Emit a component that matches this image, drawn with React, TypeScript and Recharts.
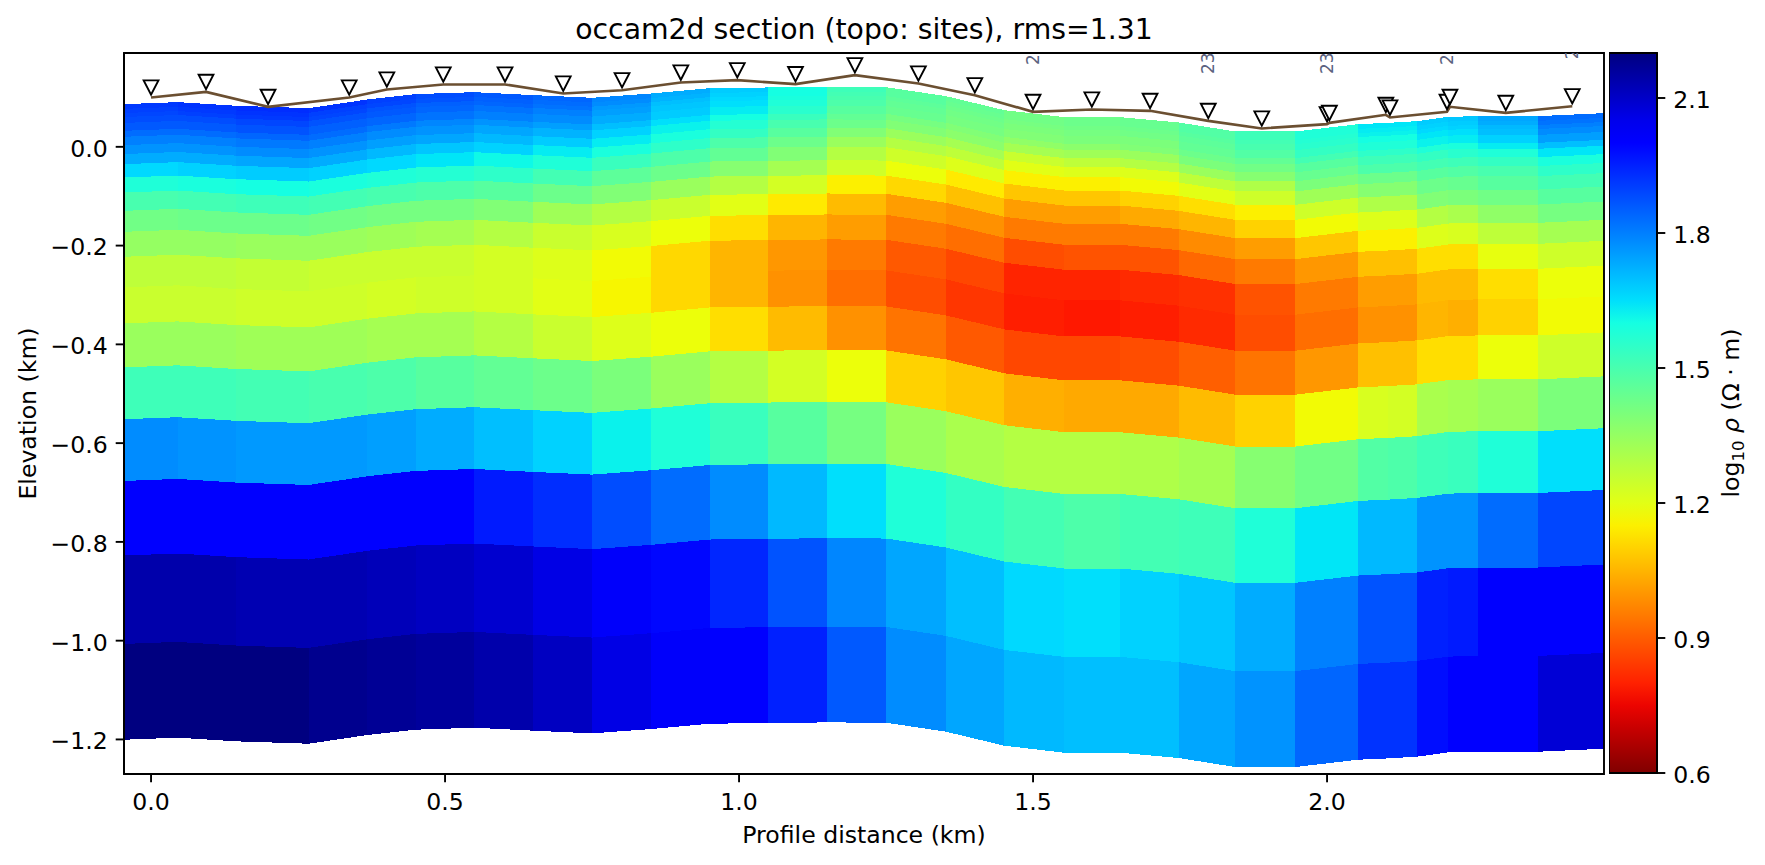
import { Area, ComposedChart, Line, ReferenceArea, Scatter, XAxis, YAxis } from 'recharts'

const FONT = '"DejaVu Sans", sans-serif'

// mesh column edges (km) and ground surface at those edges (km)
const COLUMN_EDGES = [-0.046, 0.045, 0.145, 0.268, 0.368, 0.45, 0.55, 0.65, 0.75, 0.85, 0.95, 1.05, 1.15, 1.25, 1.352, 1.451, 1.553, 1.648, 1.748, 1.844, 1.946, 2.053, 2.104, 2.153, 2.206, 2.257, 2.359, 2.471]
const SURFACE = [0.0864, 0.0905, 0.0831, 0.0783, 0.0959, 0.1067, 0.1107, 0.1047, 0.0993, 0.108, 0.1188, 0.1202, 0.1215, 0.1208, 0.1026, 0.0743, 0.0601, 0.0601, 0.0493, 0.0311, 0.0311, 0.0459, 0.0486, 0.052, 0.0607, 0.0621, 0.0621, 0.0682]
// layer edges, depth below the surface (km)
const DEPTHS = [0, 0.0095, 0.018, 0.026, 0.038, 0.054, 0.066, 0.083, 0.101, 0.1215, 0.1486, 0.179, 0.216, 0.2585, 0.309, 0.371, 0.444, 0.533, 0.638, 0.763, 0.914, 1.093, 1.287]

// log10 resistivity, one row per layer from the top
const LOG_RHO = [
  [1.91, 1.92, 1.93, 1.92, 1.9, 1.88, 1.86, 1.84, 1.79, 1.73, 1.68, 1.6, 1.52, 1.47, 1.45, 1.42, 1.43, 1.44, 1.48, 1.52, 1.58, 1.64, 1.64, 1.68, 1.69, 1.74, 1.83],
  [1.9, 1.91, 1.92, 1.9, 1.89, 1.87, 1.85, 1.83, 1.78, 1.72, 1.67, 1.6, 1.51, 1.47, 1.44, 1.42, 1.43, 1.44, 1.48, 1.52, 1.58, 1.63, 1.63, 1.67, 1.68, 1.73, 1.82],
  [1.89, 1.9, 1.91, 1.89, 1.87, 1.85, 1.84, 1.82, 1.76, 1.7, 1.66, 1.59, 1.5, 1.46, 1.43, 1.41, 1.42, 1.43, 1.47, 1.51, 1.57, 1.62, 1.62, 1.66, 1.67, 1.71, 1.8],
  [1.88, 1.88, 1.89, 1.87, 1.86, 1.84, 1.82, 1.8, 1.75, 1.69, 1.65, 1.58, 1.49, 1.45, 1.42, 1.4, 1.41, 1.42, 1.46, 1.5, 1.56, 1.6, 1.6, 1.64, 1.65, 1.7, 1.78],
  [1.86, 1.86, 1.87, 1.85, 1.84, 1.82, 1.8, 1.78, 1.73, 1.68, 1.63, 1.56, 1.47, 1.44, 1.41, 1.39, 1.4, 1.4, 1.45, 1.48, 1.54, 1.58, 1.58, 1.62, 1.63, 1.67, 1.75],
  [1.83, 1.83, 1.84, 1.83, 1.81, 1.79, 1.77, 1.75, 1.7, 1.65, 1.6, 1.53, 1.45, 1.41, 1.39, 1.36, 1.37, 1.39, 1.43, 1.45, 1.51, 1.55, 1.55, 1.58, 1.59, 1.63, 1.7],
  [1.8, 1.8, 1.81, 1.8, 1.78, 1.77, 1.74, 1.72, 1.67, 1.62, 1.57, 1.5, 1.43, 1.39, 1.37, 1.32, 1.33, 1.34, 1.4, 1.42, 1.47, 1.52, 1.52, 1.54, 1.56, 1.58, 1.64],
  [1.77, 1.77, 1.78, 1.77, 1.75, 1.74, 1.71, 1.68, 1.63, 1.59, 1.54, 1.47, 1.39, 1.34, 1.32, 1.25, 1.27, 1.29, 1.34, 1.38, 1.44, 1.49, 1.49, 1.51, 1.52, 1.54, 1.59],
  [1.73, 1.73, 1.74, 1.73, 1.71, 1.69, 1.67, 1.63, 1.59, 1.55, 1.49, 1.43, 1.34, 1.29, 1.27, 1.2, 1.21, 1.21, 1.27, 1.3, 1.4, 1.43, 1.43, 1.47, 1.48, 1.5, 1.55],
  [1.66, 1.67, 1.68, 1.67, 1.66, 1.64, 1.61, 1.58, 1.53, 1.49, 1.45, 1.39, 1.29, 1.24, 1.21, 1.15, 1.15, 1.17, 1.2, 1.24, 1.33, 1.38, 1.38, 1.43, 1.44, 1.47, 1.51],
  [1.58, 1.59, 1.6, 1.59, 1.58, 1.57, 1.55, 1.51, 1.46, 1.43, 1.38, 1.32, 1.24, 1.18, 1.14, 1.08, 1.08, 1.1, 1.12, 1.15, 1.24, 1.3, 1.3, 1.39, 1.4, 1.42, 1.47],
  [1.5, 1.51, 1.52, 1.51, 1.5, 1.49, 1.47, 1.43, 1.39, 1.34, 1.29, 1.23, 1.15, 1.11, 1.07, 1.01, 1.01, 1.03, 1.05, 1.1, 1.17, 1.21, 1.21, 1.29, 1.31, 1.36, 1.41],
  [1.42, 1.43, 1.43, 1.42, 1.41, 1.41, 1.39, 1.33, 1.29, 1.25, 1.2, 1.14, 1.06, 1.01, 0.99, 0.95, 0.95, 0.95, 0.98, 1.01, 1.08, 1.15, 1.15, 1.21, 1.22, 1.27, 1.32],
  [1.35, 1.35, 1.34, 1.34, 1.33, 1.32, 1.29, 1.25, 1.22, 1.18, 1.12, 1.05, 1.01, 0.95, 0.93, 0.875, 0.885, 0.885, 0.92, 0.95, 1.0, 1.07, 1.07, 1.12, 1.12, 1.19, 1.24],
  [1.27, 1.27, 1.26, 1.25, 1.25, 1.25, 1.23, 1.21, 1.17, 1.11, 1.05, 1.0, 0.95, 0.895, 0.865, 0.805, 0.805, 0.815, 0.825, 0.885, 0.95, 1.01, 1.01, 1.06, 1.06, 1.12, 1.18],
  [1.25, 1.25, 1.24, 1.24, 1.23, 1.24, 1.23, 1.2, 1.16, 1.11, 1.05, 0.99, 0.93, 0.875, 0.835, 0.795, 0.785, 0.795, 0.815, 0.875, 0.93, 0.99, 0.99, 1.05, 1.04, 1.1, 1.17],
  [1.34, 1.34, 1.33, 1.33, 1.32, 1.32, 1.29, 1.25, 1.21, 1.18, 1.12, 1.06, 0.99, 0.94, 0.895, 0.865, 0.865, 0.875, 0.905, 0.94, 1.0, 1.07, 1.07, 1.12, 1.12, 1.18, 1.24],
  [1.52, 1.52, 1.51, 1.5, 1.49, 1.47, 1.45, 1.43, 1.4, 1.34, 1.29, 1.23, 1.18, 1.1, 1.08, 1.04, 1.03, 1.03, 1.06, 1.1, 1.17, 1.22, 1.23, 1.31, 1.32, 1.34, 1.4],
  [1.78, 1.77, 1.76, 1.76, 1.75, 1.73, 1.7, 1.67, 1.62, 1.58, 1.53, 1.47, 1.41, 1.34, 1.31, 1.29, 1.29, 1.3, 1.32, 1.38, 1.42, 1.48, 1.49, 1.52, 1.53, 1.58, 1.65],
  [2.02, 2.02, 2.02, 2.02, 2.01, 2.0, 1.96, 1.93, 1.88, 1.83, 1.78, 1.71, 1.65, 1.58, 1.54, 1.51, 1.49, 1.51, 1.52, 1.58, 1.64, 1.71, 1.71, 1.77, 1.77, 1.83, 1.89],
  [2.14, 2.14, 2.13, 2.13, 2.12, 2.11, 2.09, 2.06, 2.03, 1.99, 1.94, 1.87, 1.79, 1.74, 1.7, 1.66, 1.65, 1.67, 1.69, 1.73, 1.8, 1.87, 1.87, 1.95, 1.96, 2.0, 2.02],
  [2.2, 2.2, 2.2, 2.18, 2.17, 2.16, 2.14, 2.11, 2.06, 2.03, 2.0, 1.95, 1.86, 1.78, 1.74, 1.71, 1.7, 1.7, 1.74, 1.77, 1.84, 1.92, 1.92, 1.98, 2.0, 2.02, 2.08],
]

const SITE_X = [0, 0.0935, 0.199, 0.337, 0.401, 0.497, 0.602, 0.701, 0.801, 0.901, 0.997, 1.096, 1.197, 1.305, 1.401, 1.5, 1.6, 1.699, 1.798, 1.889, 2.0, 2.004, 2.1, 2.107, 2.204, 2.209, 2.304, 2.417]
const SITE_ELEV = [0.1, 0.1113, 0.081, 0.1, 0.1162, 0.1263, 0.1263, 0.108, 0.1147, 0.1303, 0.135, 0.127, 0.1451, 0.1283, 0.1046, 0.0708, 0.0757, 0.0729, 0.0526, 0.0372, 0.0459, 0.0485, 0.0648, 0.0594, 0.0708, 0.081, 0.0688, 0.0823]

const LABEL_X = [1.5, 1.798, 2.0, 2.204, 2.417]
const LABEL_ELEV = [0.1658, 0.1476, 0.1476, 0.1658, 0.1773]
const LABEL_TEXT = ['23', '23', '23', '23', '23']

const X_TICKS = [0, 0.5, 1, 1.5, 2]
const Y_TICKS = [0, -0.2, -0.4, -0.6, -0.8, -1, -1.2]
const CBAR_TICKS = [0.6, 0.9, 1.2, 1.5, 1.8, 2.1]

const X_DOMAIN = [-0.046, 2.471]
const Y_DOMAIN = [-1.27, 0.19]
const RHO_MIN = 0.6
const RHO_MAX = 2.2
const MARKER_LIFT = 0.02

// matplotlib jet breakpoints
const JET_R = [[0, 0], [0.35, 0], [0.66, 1], [0.89, 1], [1, 0.5]]
const JET_G = [[0, 0], [0.125, 0], [0.375, 1], [0.64, 1], [0.91, 0], [1, 0]]
const JET_B = [[0, 0.5], [0.11, 1], [0.34, 1], [0.65, 0], [1, 0]]

const lerp = (pts: number[][], t: number) => {
  for (let i = 1; i < pts.length; i++) {
    if (t <= pts[i][0]) {
      const [a, va] = pts[i - 1]
      const [b, vb] = pts[i]
      return va + ((t - a) / (b - a)) * (vb - va)
    }
  }
  return pts[pts.length - 1][1]
}

// reversed jet: high resistivity is blue
const rhoColor = (v: number) => {
  const t = Math.min(1, Math.max(0, (RHO_MAX - v) / (RHO_MAX - RHO_MIN)))
  const ch = (pts: number[][]) => Math.round(lerp(pts, t) * 255)
  return `rgb(${ch(JET_R)},${ch(JET_G)},${ch(JET_B)})`
}

const cells = LOG_RHO.flatMap((row, k) =>
  row.map((v, c) => ({
    key: `${k}-${c}`,
    color: rhoColor(v),
    data: [c, c + 1].map((e) => ({
      x: COLUMN_EDGES[e],
      band: [SURFACE[e] - DEPTHS[k + 1], SURFACE[e] - DEPTHS[k]],
    })),
  }))
)

const sites = SITE_X.map((x, i) => ({ x, elev: SITE_ELEV[i], marker: SITE_ELEV[i] + MARKER_LIFT }))
const siteLabels = LABEL_X.map((x, i) => ({ x, elev: LABEL_ELEV[i], text: LABEL_TEXT[i] }))
const cbarStops = Array.from({ length: 33 }, (_, i) => i / 32)
const cbarData = [
  { x: 0, band: [RHO_MIN, RHO_MAX] },
  { x: 1, band: [RHO_MIN, RHO_MAX] },
]

const fmt = (v: number) => v.toFixed(1).replace('-', '\u2212')
const axisTick = { fill: '#000', fontSize: 23.6, fontFamily: FONT }
const yAxisTick = { ...axisTick, dy: 1.5 }
const axisLineStyle = { stroke: '#000', strokeWidth: 1.9 }

const Triangle = ({ cx, cy }: { cx?: number; cy?: number }) => {
  if (cx == null || cy == null) return null
  return (
    <polygon
      points={`${cx - 7.4},${cy - 7.2} ${cx + 7.4},${cy - 7.2} ${cx},${cy + 7.2}`}
      fill="#fff"
      stroke="#000"
      strokeWidth={1.9}
    />
  )
}

const SiteLabel = ({ cx, cy, text }: { cx?: number; cy?: number; text?: string }) => {
  if (cx == null || cy == null) return null
  return (
    <g clipPath="url(#plotClip)">
      <text
        x={cx}
        y={cy}
        transform={`rotate(-90 ${cx} ${cy})`}
        dy="0.36em"
        fontSize={17}
        fontFamily={FONT}
        fill="#5a6280"
      >
        {text}
      </text>
    </g>
  )
}

export default function App() {
  return (
    <div style={{ position: 'absolute', left: 0, top: 0, width: 1765, height: 865, background: '#fff' }}>
      <div
        style={{
          position: 'absolute',
          left: 124,
          width: 1480,
          top: 15,
          textAlign: 'center',
          fontFamily: FONT,
          fontSize: 28.3,
          lineHeight: '30px',
          color: '#000',
        }}
      >
        occam2d section (topo: sites), rms=1.31
      </div>

      <div style={{ position: 'absolute', left: 0, top: 0 }}>
        <ComposedChart width={1765} height={865} margin={{ top: 53, right: 161, bottom: 41, left: 44 }}>
          <defs>
            <clipPath id="plotClip">
              <rect x={124} y={53} width={1480} height={721} />
            </clipPath>
          </defs>
          <XAxis
            type="number"
            dataKey="x"
            domain={X_DOMAIN}
            ticks={X_TICKS}
            allowDataOverflow
            tickFormatter={fmt}
            tick={axisTick}
            tickSize={8.3}
            tickMargin={11}
            axisLine={axisLineStyle}
            tickLine={axisLineStyle}
            height={50}
            label={{ value: 'Profile distance (km)', position: 'insideBottom', offset: -19, fill: '#000', fontSize: 23.6, fontFamily: FONT }}
          />
          <YAxis
            type="number"
            domain={Y_DOMAIN}
            ticks={Y_TICKS}
            allowDataOverflow
            tickFormatter={fmt}
            tick={yAxisTick}
            tickSize={8.3}
            tickMargin={8}
            axisLine={axisLineStyle}
            tickLine={axisLineStyle}
            width={80}
            label={{ value: 'Elevation (km)', angle: -90, position: 'insideLeft', offset: -16, style: { textAnchor: 'middle' }, fill: '#000', fontSize: 23.6, fontFamily: FONT }}
          />
          {cells.map((cell) => (
            <Area
              key={cell.key}
              data={cell.data}
              dataKey="band"
              type="linear"
              fill={cell.color}
              fillOpacity={1}
              stroke="none"
              shapeRendering="crispEdges"
              dot={false}
              activeDot={false}
              isAnimationActive={false}
            />
          ))}
          <Line data={sites} dataKey="elev" type="linear" stroke="#6b4f31" strokeWidth={2.6} dot={false} activeDot={false} isAnimationActive={false} />
          <Scatter data={sites} dataKey="marker" shape={<Triangle />} isAnimationActive={false} />
          <Scatter data={siteLabels} dataKey="elev" shape={<SiteLabel />} isAnimationActive={false} />
          <ReferenceArea x1={X_DOMAIN[0]} x2={X_DOMAIN[1]} y1={Y_DOMAIN[0]} y2={Y_DOMAIN[1]} fill="none" stroke="#000" strokeWidth={1.9} ifOverflow="visible" />
        </ComposedChart>
      </div>

      <div style={{ position: 'absolute', left: 1609, top: 0 }}>
        <ComposedChart width={156} height={865} data={cbarData} margin={{ top: 53, right: 0, bottom: 92, left: 0 }}>
          <defs>
            <linearGradient id="jetBar" x1="0" y1="0" x2="0" y2="1">
              {cbarStops.map((s) => (
                <stop key={s} offset={s} stopColor={rhoColor(RHO_MAX - s * (RHO_MAX - RHO_MIN))} />
              ))}
            </linearGradient>
          </defs>
          <XAxis type="number" dataKey="x" domain={[0, 1]} hide />
          <YAxis
            orientation="right"
            type="number"
            domain={[RHO_MIN, RHO_MAX]}
            ticks={CBAR_TICKS}
            tickFormatter={fmt}
            tick={yAxisTick}
            tickSize={8.3}
            tickMargin={8}
            axisLine={axisLineStyle}
            tickLine={axisLineStyle}
            width={108}
            label={{
              position: 'insideRight',
              content: () => (
                <text
                  transform="rotate(-90 122 413)"
                  x={122}
                  y={413}
                  dy="0.36em"
                  textAnchor="middle"
                  fontSize={23.6}
                  fontFamily={FONT}
                  fill="#000"
                >
                  log
                  <tspan fontSize={16.5} dy={5}>10</tspan>
                  <tspan dy={-5}> </tspan>
                  <tspan fontStyle="italic">ρ</tspan> (Ω · m)
                </text>
              ),
            }}
          />
          <Area dataKey="band" type="linear" fill="url(#jetBar)" fillOpacity={1} stroke="none" dot={false} activeDot={false} isAnimationActive={false} />
          <ReferenceArea x1={0} x2={1} y1={RHO_MIN} y2={RHO_MAX} fill="none" stroke="#000" strokeWidth={1.9} ifOverflow="visible" />
        </ComposedChart>
      </div>
    </div>
  )
}
